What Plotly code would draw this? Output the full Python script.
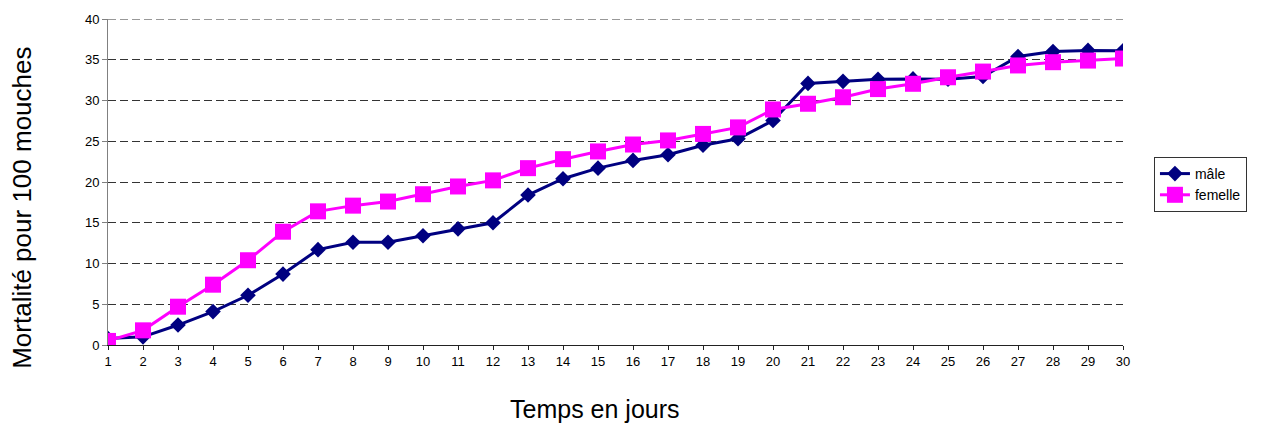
import plotly.graph_objects as go

# Days of observation
jours = list(range(1, 31))

# Cumulative mortality per 100 flies
male = [0.8, 1.0, 2.45, 4.1, 6.1, 8.7, 11.7, 12.6, 12.6, 13.4,
        14.25, 15.0, 18.4, 20.4, 21.7, 22.65, 23.35, 24.5, 25.3, 27.55,
        32.1, 32.35, 32.6, 32.65, 32.6, 32.95, 35.4, 36.0, 36.15, 36.1]
femelle = [0.5, 1.8, 4.7, 7.4, 10.4, 13.9, 16.4, 17.1, 17.6, 18.5,
           19.45, 20.2, 21.7, 22.8, 23.75, 24.6, 25.1, 25.9, 26.7, 28.9,
           29.6, 30.4, 31.4, 32.05, 32.85, 33.55, 34.3, 34.7, 34.9, 35.15]

y_ticks = [0, 5, 10, 15, 20, 25, 30, 35, 40]
y_max = 40

FONT = "Liberation Sans, Arial, sans-serif"

fig = go.Figure()
fig.add_trace(go.Scatter(
    x=jours, y=male, name="mâle", mode="lines+markers",
    line=dict(color="#000080", width=3),
    marker=dict(symbol="diamond", size=12, color="#000080"),
))
fig.add_trace(go.Scatter(
    x=jours, y=femelle, name="femelle", mode="lines+markers",
    line=dict(color="#FF00FF", width=3),
    marker=dict(symbol="square", size=16, color="#FF00FF"),
))

fig.update_layout(
    width=1266, height=427,
    margin=dict(l=108, r=143, t=19, b=82, autoexpand=False),
    paper_bgcolor="white", plot_bgcolor="white",
    font=dict(family=FONT, size=13, color="black"),
    showlegend=True,
    legend=dict(
        x=1.0305, y=0.5767, xanchor="left", yanchor="top",
        bordercolor="#333333", borderwidth=1,
        font=dict(family=FONT, size=14, color="black"),
        bgcolor="white",
    ),
    # dashed gridline along the top of the plot area
    shapes=[dict(type="line", xref="paper", yref="y", x0=0, x1=1,
                 y0=y_max, y1=y_max, layer="below",
                 line=dict(color="#333333", width=1, dash="8px,4px"))],
    annotations=[
        dict(text="Mortalité pour 100 mouches", textangle=-90,
             xref="paper", yref="paper", x=-0.085, y=0.42,
             xanchor="center", yanchor="middle", showarrow=False,
             font=dict(family=FONT, size=26, color="black")),
        dict(text="Temps en jours",
             xref="paper", yref="paper", x=0.48, y=-0.197,
             xanchor="center", yanchor="middle", showarrow=False,
             font=dict(family=FONT, size=25, color="black")),
    ],
)

fig.update_xaxes(
    range=[1, 30], tickmode="array", tickvals=jours,
    ticktext=[str(j) for j in jours],
    showgrid=False, zeroline=False,
    showline=True, linecolor="#222222", linewidth=1,
    ticks="outside", ticklen=4, tickcolor="#222222",
    tickfont=dict(family=FONT, size=13, color="black"),
)
fig.update_yaxes(
    range=[0, y_max], tickmode="array", tickvals=y_ticks,
    showgrid=True, gridcolor="#333333", gridwidth=1, griddash="8px,4px",
    zeroline=False,
    showline=True, linecolor="#808080", linewidth=1,
    ticks="outside", ticklen=5, tickcolor="#808080",
    tickfont=dict(family=FONT, size=13, color="black"),
)

fig.write_html("out.html")
